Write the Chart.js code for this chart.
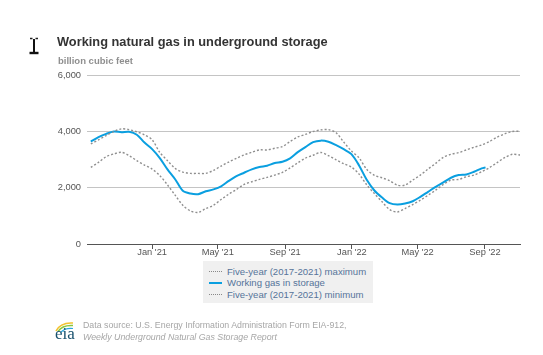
<!DOCTYPE html>
<html><head><meta charset="utf-8">
<style>
html,body{margin:0;padding:0;background:#fff;width:543px;height:355px;overflow:hidden;font-family:"Liberation Sans",Arial,sans-serif}
#wrap{position:relative;width:543px;height:355px}
canvas{position:absolute;left:0;top:0}
.t{position:absolute;white-space:nowrap}
#title{left:57px;top:34px;font-size:12.8px;font-weight:bold;color:#333}
#sub{left:58px;top:55px;font-size:9.5px;font-weight:bold;color:#8f8f8f}
#legend{position:absolute;left:203px;top:261px;width:170px;height:42px;background:#f0f0f0}
.row{position:absolute;left:6px;height:11px;font-size:9.6px;line-height:11px;color:#56749a;white-space:nowrap;padding-left:18px}
.row i{position:absolute;left:0;top:5px;width:13px;border-top:1px dotted #888}
.row i.s{border-top:2px solid #0a9fe0;top:4.5px}
#src{left:83px;top:319px;font-size:8.8px;line-height:12px;color:#a6a6a6}
</style>
</head><body>
<div id="wrap">
<canvas id="c" width="543" height="355"></canvas>
<svg class="t" style="left:28px;top:37px" width="12" height="18"><path d="M2 1.5h2.5M7.5 1.5h2.5" stroke="#222" stroke-width="1.4" fill="none"/><path d="M1.5 16h9" stroke="#111" stroke-width="2.4" fill="none"/><path d="M6 2v13" stroke="#111" stroke-width="2" fill="none"/></svg>
<div class="t" id="title">Working natural gas in underground storage</div>
<div class="t" id="sub">billion cubic feet</div>
<div id="legend">
<div class="row" style="top:5px"><i></i>Five-year (2017-2021) maximum</div>
<div class="row" style="top:16px"><i class="s"></i>Working gas in storage</div>
<div class="row" style="top:27.5px"><i></i>Five-year (2017-2021) minimum</div>
</div>
<svg class="t" style="left:52px;top:321px" width="26" height="24">
<path d="M4 10C7 4 13 1.5 21 2" stroke="#f2c230" stroke-width="1.6" fill="none"/>
<path d="M6 10.5C9 6 14 4 21 4.5" stroke="#8cc63f" stroke-width="1.4" fill="none"/>
<path d="M9 11C12 8 16 7 21 7.5" stroke="#2aa7df" stroke-width="1.2" fill="none"/>
<text x="3" y="18" font-family="Liberation Serif" font-size="17" fill="#17506d">eia</text>
</svg>
<div class="t" id="src">Data source: U.S. Energy Information Administration Form EIA-912,<br><em>Weekly Underground Natural Gas Storage Report</em></div>
</div>
<script src="https://cdn.jsdelivr.net/npm/chart.js@4"></script>
<script>
const seriesStartDay=-112, stepDays=14;
const fiveYearMax=[3554,3697,3851,3994,4089,4060,3982,3875,3700,3250,2960,2685,2554,2507,2507,2507,2614,2768,2911,3042,3161,3256,3340,3340,3399,3459,3640,3800,3890,3994,4050,4060,3950,3620,3300,3060,2650,2440,2350,2245,2090,2090,2269,2447,2661,2863,3078,3185,3244,3340,3435,3518,3637,3792,3911,3994,4006];
const fiveYearMin=[2721,2899,3101,3197,3256,3137,2959,2804,2661,2430,2100,1733,1376,1174,1120,1257,1376,1578,1769,1935,2114,2209,2292,2364,2447,2542,2700,2880,3050,3150,3250,3140,2990,2850,2730,2480,2100,1790,1500,1220,1138,1257,1400,1555,1733,1911,2114,2269,2292,2388,2447,2566,2709,2887,3066,3185,3161];
const workingGas=[3637,3792,3911,3994,3970,3985,3880,3600,3370,3050,2650,2300,1890,1790,1770,1870,1940,2050,2240,2410,2530,2649,2733,2780,2875,2920,3040,3260,3440,3615,3670,3630,3510,3365,3190,2790,2280,1900,1650,1450,1400,1436,1519,1674,1852,2030,2185,2352,2447,2471,2566,2685];
const workingLastDay=609, workingLastValue=2720;
const tickDays=[0,120,243,365,485,608];
const tickLabels=["Jan '21","May '21","Sep '21","Jan '22","May '22","Sep '22"];
const yTicks=[0,2000,4000,6000];
const dayOf=i=>seriesStartDay+i*stepDays;
const pts=a=>a.map((v,i)=>({x:dayOf(i),y:v}));
const dotted={borderColor:'#8f8f8f',borderWidth:1.4,borderDash:[2,2],pointRadius:0,tension:0.3};
new Chart(document.getElementById('c'),{
 type:'line',
 data:{datasets:[
  {label:'Five-year (2017-2021) maximum',data:pts(fiveYearMax),...dotted},
  {label:'Working gas in storage',data:pts(workingGas).concat([{x:workingLastDay,y:workingLastValue}]),borderColor:'#0a9fe0',borderWidth:2,pointRadius:0,tension:0.3},
  {label:'Five-year (2017-2021) minimum',data:pts(fiveYearMin),...dotted}
 ]},
 options:{
  responsive:false,animation:false,
  layout:{padding:{top:75,right:23,left:0,bottom:0}},
  plugins:{legend:{display:false},tooltip:{enabled:false}},
  scales:{
   x:{type:'linear',min:-119,max:672,
    afterBuildTicks:s=>{s.ticks=tickDays.map(v=>({value:v}));},
    afterFit:s=>{s.height=111;},
    ticks:{autoSkip:false,maxRotation:0,padding:-2,color:'#555',font:{family:'Liberation Sans',size:9.3},
      callback:(v)=>tickLabels[tickDays.indexOf(v)]},
    grid:{drawOnChartArea:false,drawTicks:true,tickLength:5,color:'#555'},
    border:{color:'#555',width:1}},
   y:{min:0,max:6000,
    afterBuildTicks:s=>{s.ticks=yTicks.map(v=>({value:v}));},
    afterFit:s=>{s.width=87;},
    ticks:{padding:6,color:'#555',font:{family:'Liberation Sans',size:9.3},callback:v=>v.toLocaleString('en-US')},
    grid:{color:c=>c.tick.value===0?'rgba(0,0,0,0)':'#c4c4c4',lineWidth:1,drawTicks:false},
    border:{display:false}}
  }
 }
});
</script>
</body></html>
